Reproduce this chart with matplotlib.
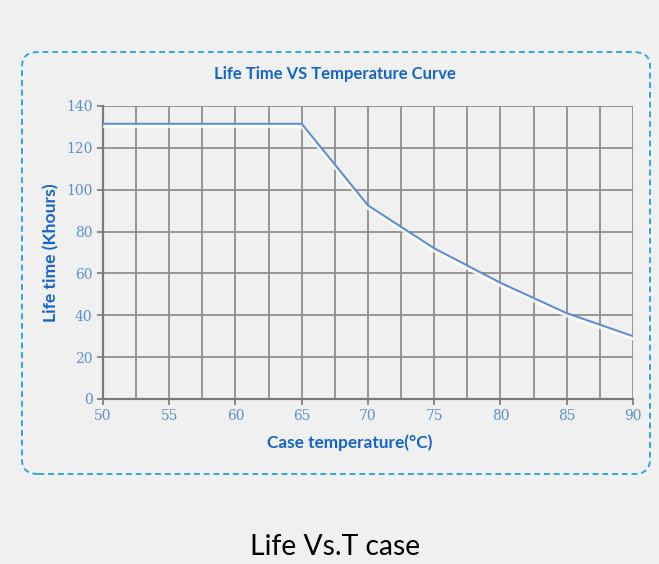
import matplotlib.pyplot as plt
from matplotlib.patches import FancyBboxPatch
from matplotlib.ticker import MultipleLocator

temps = [50, 55, 60, 65, 70, 75, 80, 85, 90]
life = [131.5, 131.5, 131.5, 131.5, 92.5, 72, 55.5, 41, 30]

bg = "#f0f0f0"
blue = "#1565c8"
tick_blue = "#5b8fd0"

fig = plt.figure(figsize=(6.59, 5.64), dpi=100, facecolor=bg)
ax = fig.add_axes([0.1563, 0.2926, 0.8042, 0.5195], facecolor=bg)

# faint white shadow under the curve
ax.plot(temps, [v - 1.2 for v in life], color="white", lw=2.5, alpha=0.8, zorder=3)
ax.plot(temps, life, color="#5a8ad0", lw=1.4, zorder=4)

ax.set_xlim(50, 90)
ax.set_ylim(0, 140)
ax.xaxis.set_major_locator(MultipleLocator(5))
ax.xaxis.set_minor_locator(MultipleLocator(2.5))
ax.yaxis.set_major_locator(MultipleLocator(20))
ax.grid(True, which="both", color="#8f8f8f", lw=1.3, zorder=1)
ax.tick_params(which="minor", length=0)
ax.tick_params(which="major", length=4, width=1.3, color="#808080",
               labelcolor=tick_blue, labelsize=10)
for lab in ax.get_xticklabels() + ax.get_yticklabels():
    lab.set_family("DejaVu Serif")
for s in ["left", "bottom"]:
    ax.spines[s].set_color("#7a7a7a")
    ax.spines[s].set_linewidth(1.6)
for s in ["top", "right"]:
    ax.spines[s].set_visible(False)

ax.set_xlabel("Case temperature(°C)", color=blue, fontsize=12.4, fontweight="bold",
              family="Lato", va="center")
ax.xaxis.set_label_coords(0.466, -0.149)
ax.set_ylabel("Life time (Khours)", color=blue, fontsize=12.6, fontweight="bold",
              family="Lato", va="center")
ax.yaxis.set_label_coords(-0.097, 0.5)
fig.text(0.509, 0.869, "Life Time VS Temperature Curve", color=blue, fontsize=12,
         fontweight="bold", family="Lato", ha="center", va="center")

box = FancyBboxPatch((22 / 659, 1 - 474 / 564), 628 / 659, 422 / 564,
                     boxstyle="round,pad=0,rounding_size=0.025", transform=fig.transFigure,
                     facecolor="none", edgecolor="#2fa8e0", lw=1.4, linestyle=(0, (3, 2)))
fig.patches.append(box)

fig.text(0.508, 0.03, "Life Vs.T case", fontsize=20.3, family="Lato",
         ha="center", va="center", color="black")

fig.savefig("out.png", dpi=100, facecolor=bg)
